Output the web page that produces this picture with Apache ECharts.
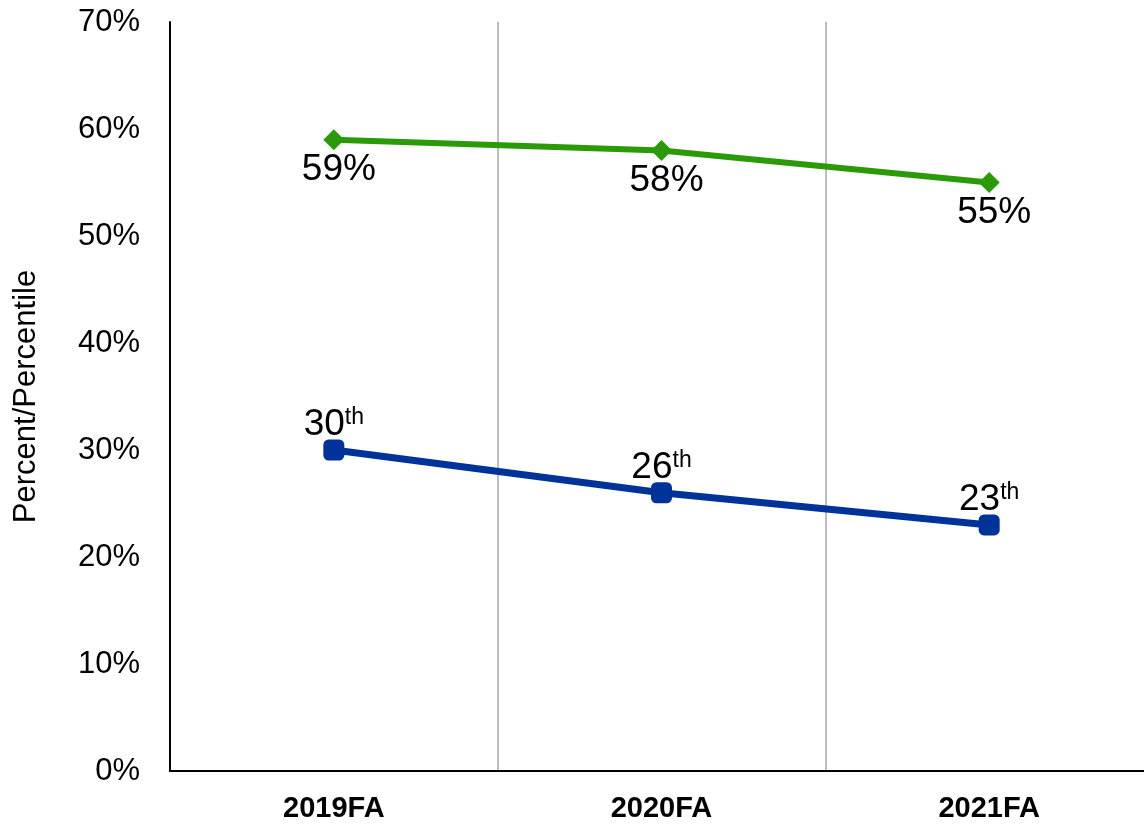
<!DOCTYPE html>
<html>
<head>
<meta charset="utf-8">
<script src="https://cdn.jsdelivr.net/npm/echarts@6/dist/echarts.min.js"></script>
<style>
  html, body { margin: 0; padding: 0; background: #fff; }
  #main { width: 1144px; height: 827px; }
</style>
</head>
<body>
<div id="main"></div>
<script>
const years = ["2019FA", "2020FA", "2021FA"];
const percentValues = [59, 58, 55];       // green, shown as %
const percentileValues = [30, 26, 23];    // blue, shown as 30th etc.

const FONT = "'Liberation Sans', Arial, sans-serif";
const GREEN = "#2a9a08";
const BLUE = "#00339a";

const chart = echarts.init(document.getElementById("main"));

chart.setOption({
  animation: false,
  backgroundColor: "#fff",
  textStyle: { fontFamily: FONT, color: "#000" },
  grid: { left: 170, right: -9, top: 22, bottom: 56, outerBoundsMode: "none" },
  xAxis: {
    type: "category",
    data: years,
    boundaryGap: true,
    axisLine: { lineStyle: { color: "#000", width: 2 } },
    axisTick: { show: false },
    splitLine: { show: true, lineStyle: { color: "#bdbdbd", width: 2 } },
    axisLabel: {
      margin: 23,
      fontSize: 29,
      fontWeight: "bold",
      fontFamily: FONT,
      color: "#000",
    },
  },
  yAxis: {
    type: "value",
    min: 0,
    max: 70,
    interval: 10,
    name: "Percent/Percentile",
    nameLocation: "middle",
    nameGap: 128,
    nameTextStyle: { fontSize: 31, fontFamily: FONT, color: "#000" },
    axisLine: { show: true, lineStyle: { color: "#000", width: 2 } },
    axisTick: { show: false },
    splitLine: { show: false },
    axisLabel: {
      margin: 30,
      fontSize: 31,
      fontFamily: FONT,
      color: "#000",
      formatter: "{value}%",
    },
  },
  series: [
    {
      name: "Percent",
      type: "line",
      data: percentValues,
      symbol: "diamond",
      symbolSize: 21,
      lineStyle: { color: GREEN, width: 6 },
      itemStyle: { color: GREEN },
      label: {
        show: true,
        position: "bottom",
        distance: 1,
        offset: [5, 0],
        fontSize: 37,
        fontFamily: FONT,
        color: "#000",
        formatter: "{c}%",
      },
    },
    {
      name: "Percentile",
      type: "line",
      data: percentileValues,
      symbol: "roundRect",
      symbolSize: 21,
      lineStyle: { color: BLUE, width: 7 },
      itemStyle: { color: BLUE },
      label: {
        show: true,
        position: "top",
        distance: -4,
        color: "#000",
        formatter: (p) => "{n|" + p.value + "}{s|th}",
        rich: {
          n: { fontSize: 37, fontFamily: FONT, color: "#000" },
          s: { fontSize: 23, fontFamily: FONT, color: "#000", verticalAlign: "top" },
        },
      },
    },
  ],
});
</script>
</body>
</html>
